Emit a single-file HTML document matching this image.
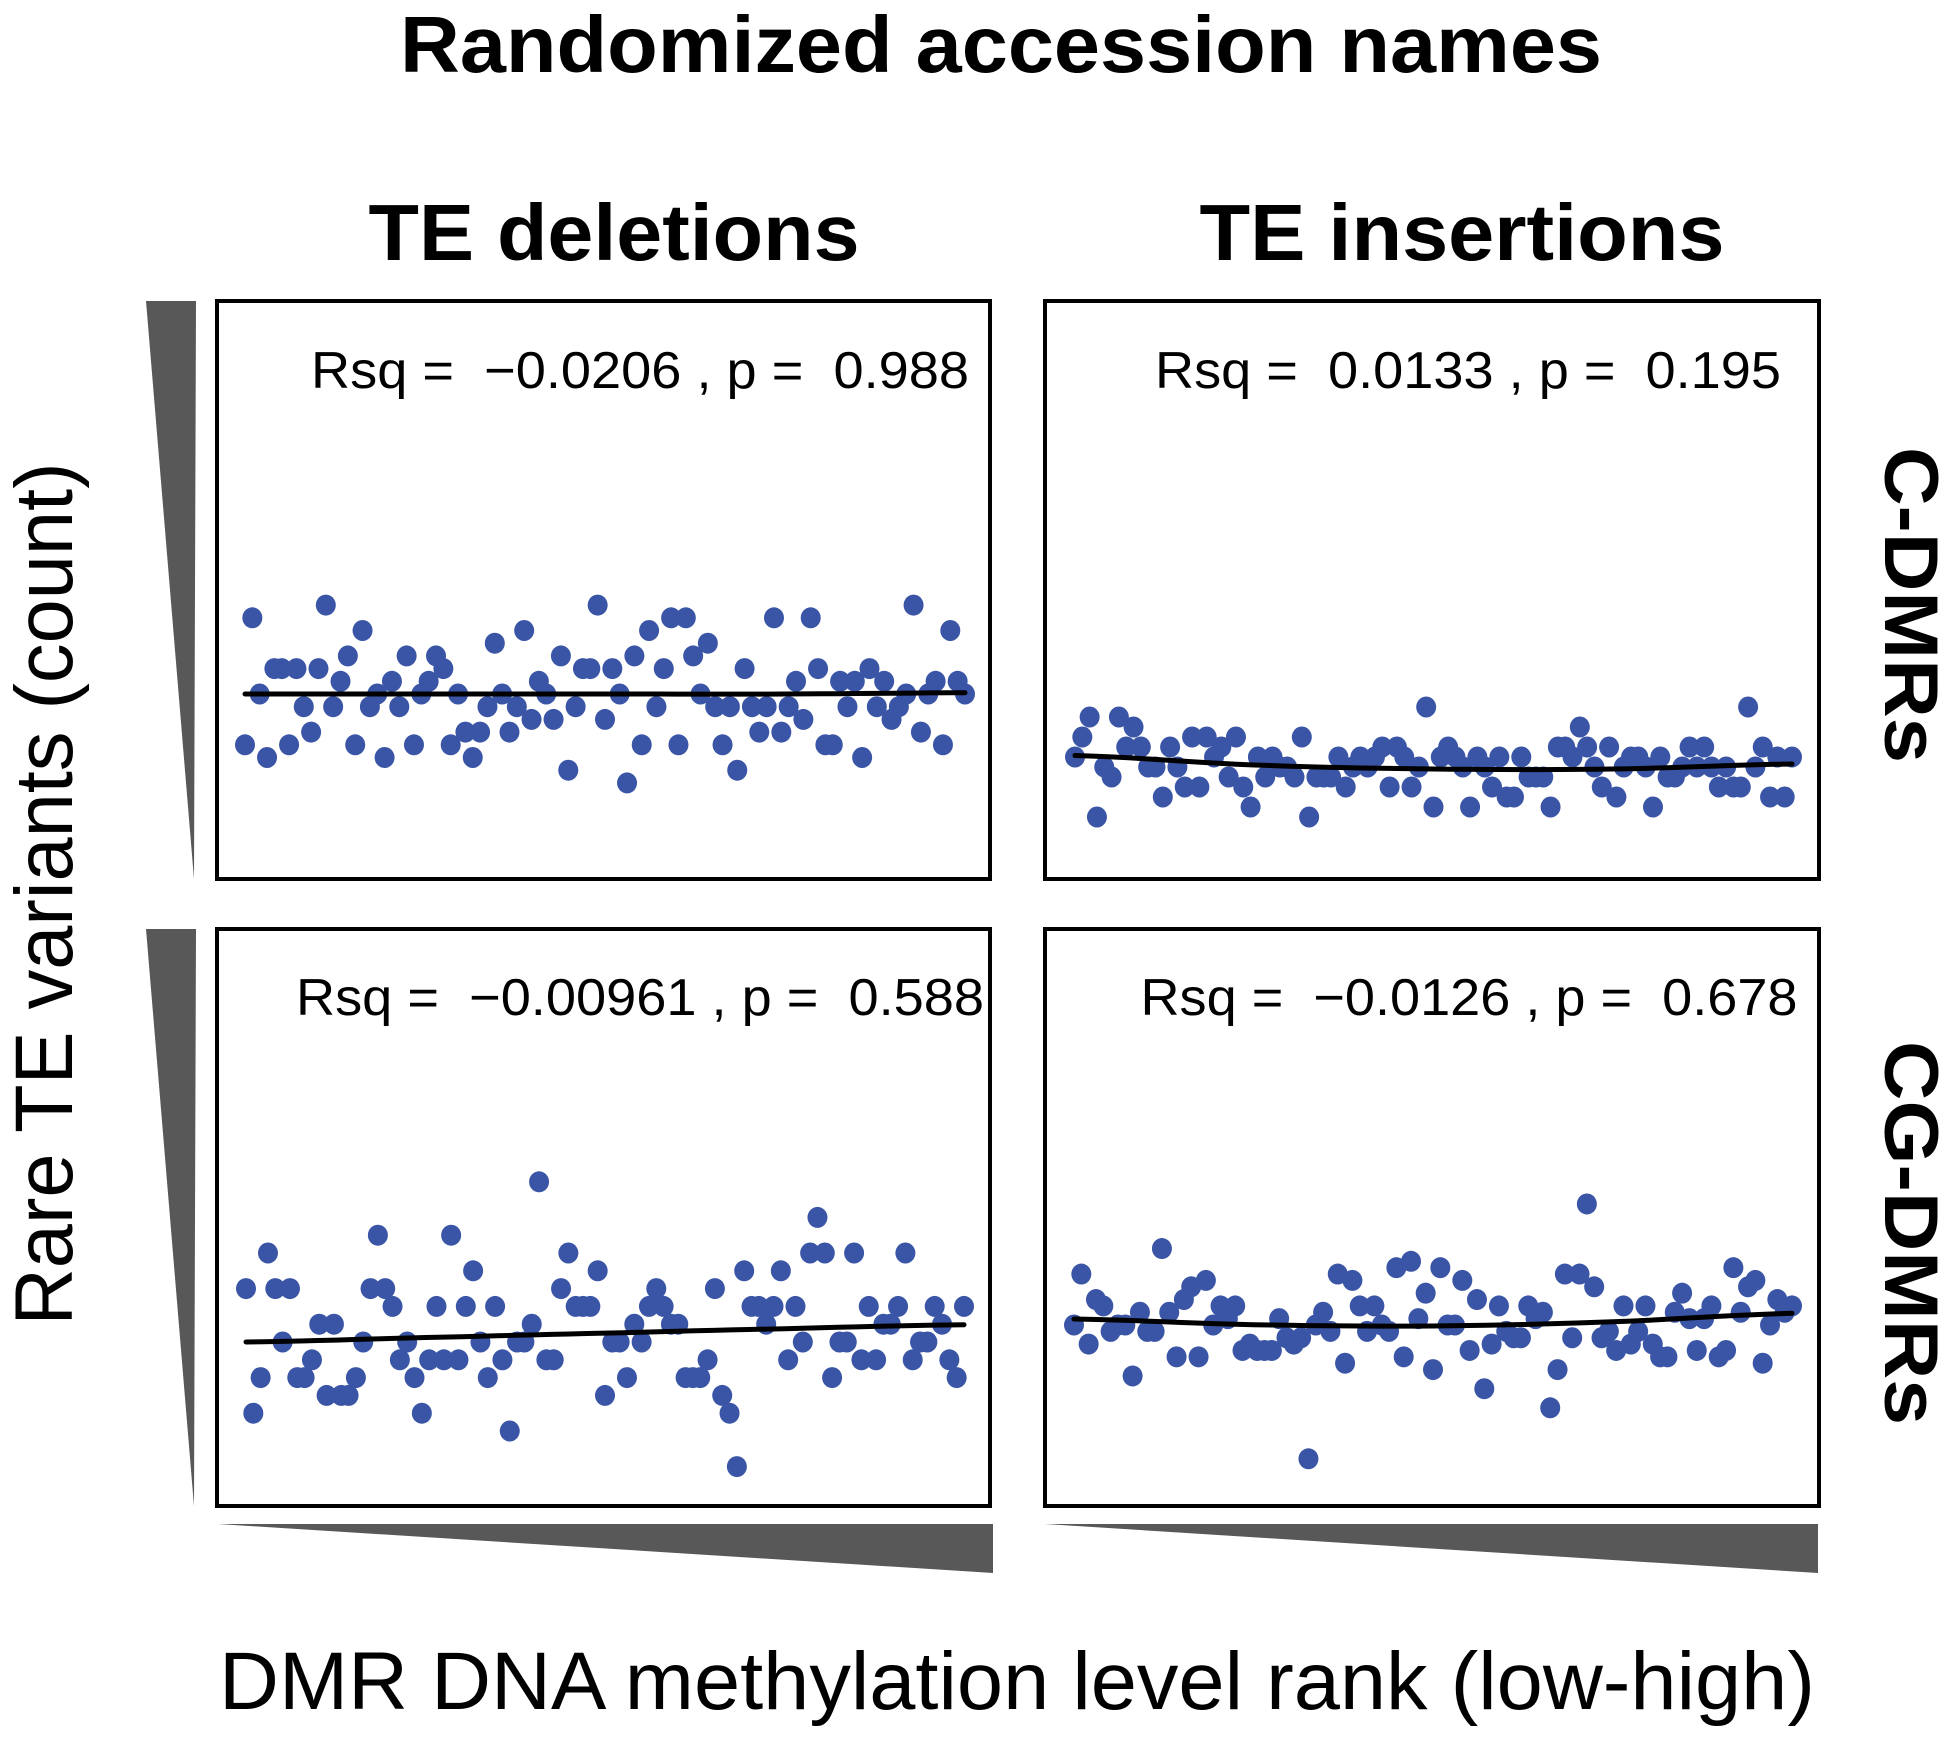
<!DOCTYPE html>
<html><head><meta charset="utf-8">
<style>
html,body{margin:0;padding:0;background:#fff;}
svg{display:block;font-family:"Liberation Sans",sans-serif;}
</style></head>
<body>
<svg id="fig" width="1959" height="1748" viewBox="0 0 1959 1748" xmlns="http://www.w3.org/2000/svg">
<text x="1001" y="72" font-size="80" font-weight="bold" text-anchor="middle" textLength="1202" lengthAdjust="spacingAndGlyphs">Randomized accession names</text>
<text x="614" y="260" font-size="80" font-weight="bold" text-anchor="middle" textLength="491" lengthAdjust="spacingAndGlyphs">TE deletions</text>
<text x="1462" y="260" font-size="80" font-weight="bold" text-anchor="middle" textLength="525" lengthAdjust="spacingAndGlyphs">TE insertions</text>
<text transform="translate(72,894) rotate(-90)" font-size="82" text-anchor="middle" textLength="863" lengthAdjust="spacingAndGlyphs">Rare TE variants (count)</text>
<text x="1017" y="1709" font-size="82" text-anchor="middle" textLength="1596" lengthAdjust="spacingAndGlyphs">DMR DNA methylation level rank (low-high)</text>
<text transform="translate(1885,605) rotate(90)" font-size="76" font-weight="bold" text-anchor="middle" textLength="316" lengthAdjust="spacingAndGlyphs">C-DMRs</text>
<text transform="translate(1885,1233) rotate(90)" font-size="76" font-weight="bold" text-anchor="middle" textLength="384" lengthAdjust="spacingAndGlyphs">CG-DMRs</text>
<polygon points="146,301 196,301 194,879" fill="#585858"/>
<polygon points="146,929 196,929 194,1506" fill="#585858"/>
<polygon points="218,1524 993,1524 993,1573" fill="#585858"/>
<polygon points="1045,1524 1818,1524 1818,1573" fill="#585858"/>
<g id="panels"></g>
</svg>
<script>
const tlCounts = [10,20,14,9,16,16,10,16,13,11,16,21,13,15,17,10,19,13,14,9,15,13,17,10,14,15,17,16,10,14,11,9,11,13,18,14,11,13,19,12,15,14,12,17,8,13,16,16,21,12,16,14,7,17,10,19,13,16,20,10,20,17,14,18,13,10,13,8,16,13,11,13,20,11,13,15,12,20,16,10,10,15,13,15,9,16,13,15,12,13,14,21,11,14,15,10,19,15,14];
const trCounts = [9,11,13,3,8,7,13,10,12,10,8,8,5,10,8,6,11,6,11,9,10,7,11,6,4,9,7,9,8,8,7,11,3,7,7,7,9,6,8,9,8,9,10,6,10,9,6,8,14,4,9,10,9,8,4,9,8,6,9,5,5,9,7,7,7,4,10,10,9,12,10,8,6,10,5,8,9,9,8,4,9,7,7,8,10,8,10,8,6,8,6,6,14,8,10,5,9,5,9];
const blCounts = [11,4,6,13,11,8,11,6,6,7,9,5,9,5,5,6,8,11,14,11,10,7,8,6,4,7,10,7,14,7,10,12,8,6,10,7,3,8,8,9,17,7,7,11,13,10,10,10,12,5,8,8,6,9,8,10,11,10,9,9,6,6,6,7,11,5,4,1,12,10,10,9,10,12,7,10,8,13,15,13,6,8,8,13,7,10,7,9,9,10,13,7,8,8,10,9,7,6,10];
const brCounts = [25,33,22,29,28,24,25,25,17,27,24,24,37,27,20,29,31,20,32,25,28,26,28,21,22,21,21,21,26,23,22,23,4,25,27,24,33,19,32,28,24,28,25,24,34,20,35,26,30,18,34,25,25,32,21,29,15,22,28,24,23,23,28,26,27,12,18,33,23,33,44,31,23,24,21,28,22,24,28,22,20,20,27,30,26,21,26,28,20,21,34,27,31,32,19,25,29,27,28];
const tlFit = [14,14,14,14,14.1];
const trFit = [9.15,8.2,7.8,7.8,8.3];
const blFit = [8,8.25,8.5,8.75,8.97];
const brFit = [25.94,25.05,24.85,25.5,26.83];
const statLabels = ["Rsq =  \u22120.0206 , p =  0.988","Rsq =  0.0133 , p =  0.195","Rsq =  \u22120.00961 , p =  0.588","Rsq =  \u22120.0126 , p =  0.678"];

const NS = "http://www.w3.org/2000/svg";
const g = document.getElementById('panels');
const panels = [
 {name:'c-dmr-deletions', data:tlCounts, fit:tlFit, stat:statLabels[0], box:[217,301,990,879], x0:245, x1:965, yRef:694, vRef:14, k:12.7, tx:640, ty:388, tl:658},
 {name:'c-dmr-insertions', data:trCounts, fit:trFit, stat:statLabels[1], box:[1045,301,1819,879], x0:1075, x1:1792, yRef:767, vRef:8, k:10, tx:1468, ty:388, tl:626},
 {name:'cg-dmr-deletions', data:blCounts, fit:blFit, stat:statLabels[2], box:[217,929,990,1506], x0:246, x1:964, yRef:1342, vRef:8, k:17.8, tx:640, ty:1015, tl:688},
 {name:'cg-dmr-insertions', data:brCounts, fit:brFit, stat:statLabels[3], box:[1045,929,1819,1506], x0:1074, x1:1792, yRef:1325, vRef:25, k:6.37, tx:1469, ty:1015, tl:657}
];
panels.forEach(p => {
  const grp = document.createElementNS(NS,'g');
  
  
  const yS = v => p.yRef - (v - p.vRef) * p.k;
  const xS = t => p.x0 + t * (p.x1 - p.x0);
  const r = document.createElementNS(NS,'rect');
  r.setAttribute('x', p.box[0]); r.setAttribute('y', p.box[1]);
  r.setAttribute('width', p.box[2]-p.box[0]); r.setAttribute('height', p.box[3]-p.box[1]);
  r.setAttribute('fill','none'); r.setAttribute('stroke','#000'); r.setAttribute('stroke-width','4');
  
  
  grp.appendChild(r);
  const n = p.data.length;
  p.data.forEach((v,i) => {
    const c = document.createElementNS(NS,'ellipse');
    c.setAttribute('cx', xS(i/(n-1))); c.setAttribute('cy', yS(v));
    c.setAttribute('rx', 10); c.setAttribute('ry', 10.5);
    c.setAttribute('fill', '#3a55a6');
    
    
    grp.appendChild(c);
  });
  const m = p.fit.length;
  let d = '';
  const S = 40;
  for (let s=0; s<=S; s++){
    const t = s/S, pos = t*(m-1), i = Math.min(Math.floor(pos), m-2), f = pos - i;
    const a = p.fit[Math.max(i-1,0)], b = p.fit[i], c2 = p.fit[i+1], e = p.fit[Math.min(i+2,m-1)];
    const v = b + 0.5*f*(c2-a + f*(2*a-5*b+4*c2-e + f*(3*(b-c2)+e-a)));
    d += (s? 'L':'M') + xS(t).toFixed(1) + ',' + yS(v).toFixed(1);
  }
  const path = document.createElementNS(NS,'path');
  path.setAttribute('d', d); path.setAttribute('fill','none');
  path.setAttribute('stroke','#000'); path.setAttribute('stroke-width','5'); path.setAttribute('stroke-linecap','round');
  
  
  grp.appendChild(path);
  const tx = document.createElementNS(NS,'text');
  tx.setAttribute('x', p.tx); tx.setAttribute('y', p.ty);
  tx.setAttribute('font-size', '52'); tx.setAttribute('text-anchor','middle');
  tx.setAttribute('textLength', p.tl); tx.setAttribute('lengthAdjust','spacingAndGlyphs');
  tx.setAttribute('xml:space','preserve');
  tx.style.whiteSpace = 'pre';
  tx.textContent = p.stat;
  
  
  grp.appendChild(tx);
  g.appendChild(grp);
});
</script>
</body></html>
